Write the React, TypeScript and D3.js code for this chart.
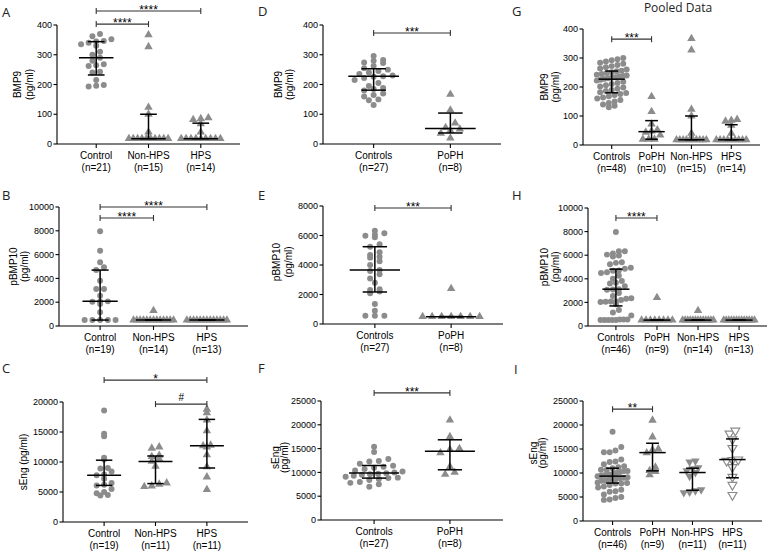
import React from 'react';
import * as d3 from 'd3';

// ---------------- DATA ----------------
const catsLiver = ['Control', 'Non-HPS', 'HPS'];
const catsPoPH = ['Controls', 'PoPH'];
const catsPooled = ['Controls', 'PoPH', 'Non-HPS', 'HPS'];

// Panel A: BMP9 (pg/ml)
const aControl = [370, 362, 352, 346, 345, 340, 335, 330, 310, 300, 290, 280, 268, 265, 262, 243, 240, 215, 198, 196, 193];
const aNonHPS = [367, 327, 123, 100, 40, 18, 18, 18, 18, 18, 18, 18, 18, 18, 18];
const aHPS = [88, 85, 82, 68, 40, 18, 18, 18, 18, 18, 18, 18, 18, 18];
const aMed = [290, 18, 18];
const aQ1 = [232, 18, 18];
const aQ3 = [344, 100, 70];

// Panel B: pBMP10 (pg/ml)
const bControl = [7960, 6330, 5350, 4930, 4700, 3810, 3110, 3100, 2550, 2070, 2050, 2030, 1850, 1150, 500, 500, 500, 500, 500];
const bNonHPS = [1300, 500, 500, 500, 500, 500, 500, 500, 500, 500, 500, 500, 500, 500];
const bHPS = [500, 500, 500, 500, 500, 500, 500, 500, 500, 500, 500, 500, 500];
const bMed = [2070, 500, 500];
const bQ1 = [500, 500, 500];
const bQ3 = [4700, 500, 500];

// Panel C: sEng (pg/ml)
const cControl = [18600, 14700, 14300, 10700, 10400, 9000, 8900, 8400, 7900, 7800, 7200, 6500, 6200, 6100, 5500, 5000, 4800, 4500, 4400];
const cNonHPS = [12500, 12300, 11100, 10900, 10500, 10100, 9300, 6500, 6300, 6000, 5900];
const cHPS = [18800, 18200, 17000, 15200, 12800, 12700, 12500, 11200, 9200, 7500, 5400];
const cMed = [7800, 10100, 12700];
const cQ1 = [6100, 6400, 9000];
const cQ3 = [10300, 11000, 17100];

// Panel D: BMP9
const dControls = [296, 282, 280, 274, 272, 262, 255, 250, 245, 240, 235, 230, 228, 226, 222, 215, 205, 195, 188, 185, 180, 170, 165, 160, 150, 147, 131];
const dPoPH = [167, 114, 70, 55, 50, 45, 36, 20];
const dMed = [228, 52];
const dQ1 = [181, 37];
const dQ3 = [253, 104];

// Panel E: pBMP10
const eControls = [6330, 6150, 6050, 5980, 5880, 5400, 5240, 4860, 4680, 4560, 4500, 4250, 4000, 3660, 3600, 3380, 3080, 2800, 2350, 2300, 2200, 2080, 1350, 900, 560, 560, 560];
const ePoPH = [2400, 500, 500, 500, 500, 500, 500, 500];
const eMed = [3660, 500];
const eQ1 = [2170, 500];
const eQ3 = [5240, 500];

// Panel F: sEng
const fControls = [15400, 14300, 12800, 12400, 12300, 11800, 11400, 11200, 11000, 10700, 10400, 10200, 10000, 9800, 9700, 9600, 9500, 9300, 9100, 8900, 8800, 8600, 8400, 8000, 7800, 7500, 7000];
const fPoPH = [21000, 17500, 15000, 14800, 14100, 11200, 10000, 9600];
const fMed = [9850, 14450];
const fQ1 = [8800, 10550];
const fQ3 = [11450, 16850];

// Panel G: pooled BMP9
const gControls = [300, 296, 292, 288, 284, 280, 276, 272, 268, 264, 260, 256,
  254, 251, 248, 245, 242, 240, 238, 236, 234, 232, 230, 228,
  225, 222, 218, 214, 210, 206, 202, 198, 194, 190, 186, 182,
  179, 176, 172, 168, 164, 160, 155, 150, 145, 140, 135, 130];
const gPoPH = [167, 115, 72, 52, 48, 44, 34, 20, 20, 20];
const gNonHPS = aNonHPS;
const gHPS = aHPS;
const gMed = [227, 46, 18, 18];
const gQ1 = [180, 20, 18, 18];
const gQ3 = [255, 84, 100, 70];

// Panel H: pooled pBMP10
const hControls = [...bControl, ...eControls];
const hPoPH = [2400, 500, 500, 500, 500, 500, 500, 500, 500];
const hNonHPS = bNonHPS;
const hHPS = bHPS;
const hMed = [3120, 500, 500, 500];
const hQ1 = [1700, 500, 500, 500];
const hQ3 = [4820, 500, 500, 500];

// Panel I: pooled sEng
const iControls = [...cControl, ...fControls];
const iPoPH = [21000, 17500, 15000, 14800, 14200, 11200, 10500, 10300, 9600];
const iNonHPS = cNonHPS;
const iHPS = cHPS;
const iMed = [9350, 14250, 10100, 12800];
const iQ1 = [7900, 10450, 6400, 9000];
const iQ3 = [11000, 16200, 11000, 17100];

// Significance brackets: [from group, to group, level (data units), label]
const aSig: [number, number, number, string][] = [[0, 2, 447, '****'], [0, 1, 403, '****']];
const bSig: [number, number, number, string][] = [[0, 2, 10000, '****'], [0, 1, 9080, '****']];
const cSig: [number, number, number, string][] = [[0, 2, 23650, '*'], [1, 2, 19650, '#']];
const dSig: [number, number, number, string][] = [[0, 1, 373, '***']];
const eSig: [number, number, number, string][] = [[0, 1, 7860, '***']];
const fSig: [number, number, number, string][] = [[0, 1, 26700, '***']];
const gSig: [number, number, number, string][] = [[0, 1, 365, '***']];
const hSig: [number, number, number, string][] = [[0, 1, 9150, '****']];
const iSig: [number, number, number, string][] = [[0, 1, 23300, '**']];

// ---------------- LAYOUT ----------------
const FONT = "'Liberation Sans', Arial, sans-serif";
const LFONT = "'Open Sans', 'DejaVu Sans', sans-serif";
const GRAY = '#8c8c8c';

type Panel = {
  letter: string; lx: number; ly: number;
  x0: number; x1: number; pad: number;
  yb: number; yt: number; ymax: number; tick: number;
  cats: string[]; groups: number[][]; shapes: string[];
  med: number[]; q1: number[]; q3: number[];
  ylab: string[]; ylabOff: number[]; ylabDy: number;
  sig: [number, number, number, string][];
};

const panels: Panel[] = [
  { letter: 'A', lx: 2, ly: 17, x0: 57, x1: 240, pad: 0.75, yb: 144, yt: 25, ymax: 400, tick: 100,
    cats: catsLiver, groups: [aControl, aNonHPS, aHPS], shapes: ['c', 'u', 'u'],
    med: aMed, q1: aQ1, q3: aQ3, ylab: ['BMP9', '(pg/ml)'], ylabOff: [-40, -28], ylabDy: 0, sig: aSig },
  { letter: 'B', lx: 2, ly: 200, x0: 59, x1: 248, pad: 0.77, yb: 326, yt: 207, ymax: 10000, tick: 2000,
    cats: catsLiver, groups: [bControl, bNonHPS, bHPS], shapes: ['c', 'u', 'u'],
    med: bMed, q1: bQ1, q3: bQ3, ylab: ['pBMP10', '(pg/ml)'], ylabOff: [-46, -35], ylabDy: 0, sig: bSig },
  { letter: 'C', lx: 2, ly: 373, x0: 63, x1: 248, pad: 0.8, yb: 522, yt: 402, ymax: 20000, tick: 5000,
    cats: catsLiver, groups: [cControl, cNonHPS, cHPS], shapes: ['c', 'u', 'u'],
    med: cMed, q1: cQ1, q3: cQ3, ylab: ['sEng (pg/ml)'], ylabOff: [-40], ylabDy: 0, sig: cSig },
  { letter: 'D', lx: 258, ly: 16, x0: 323, x1: 501, pad: 0.66, yb: 144, yt: 25, ymax: 400, tick: 100,
    cats: catsPoPH, groups: [dControls, dPoPH], shapes: ['c', 'u'],
    med: dMed, q1: dQ1, q3: dQ3, ylab: ['BMP9', '(pg/ml)'], ylabOff: [-45, -34], ylabDy: 0, sig: dSig },
  { letter: 'E', lx: 258, ly: 200, x0: 323, x1: 503, pad: 0.68, yb: 324, yt: 206, ymax: 8000, tick: 2000,
    cats: catsPoPH, groups: [eControls, ePoPH], shapes: ['c', 'u'],
    med: eMed, q1: eQ1, q3: eQ3, ylab: ['pBMP10', '(pg/ml)'], ylabOff: [-47, -35], ylabDy: -3, sig: eSig },
  { letter: 'F', lx: 258, ly: 373, x0: 321, x1: 503, pad: 0.7, yb: 520, yt: 401, ymax: 25000, tick: 5000,
    cats: catsPoPH, groups: [fControls, fPoPH], shapes: ['c', 'u'],
    med: fMed, q1: fQ1, q3: fQ3, ylab: ['sEng', '(pg/ml)'], ylabOff: [-46, -37], ylabDy: -3, sig: fSig },
  { letter: 'G', lx: 512, ly: 16, x0: 583, x1: 760, pad: 0.72, yb: 145, yt: 29, ymax: 400, tick: 100,
    cats: catsPooled, groups: [gControls, gPoPH, gNonHPS, gHPS], shapes: ['c', 'u', 'u', 'u'],
    med: gMed, q1: gQ1, q3: gQ3, ylab: ['BMP9', '(pg/ml)'], ylabOff: [-39, -28], ylabDy: 0, sig: gSig },
  { letter: 'H', lx: 512, ly: 200, x0: 588, x1: 767, pad: 0.68, yb: 326, yt: 208, ymax: 10000, tick: 2000,
    cats: catsPooled, groups: [hControls, hPoPH, hNonHPS, hHPS], shapes: ['c', 'u', 'u', 'u'],
    med: hMed, q1: hQ1, q3: hQ3, ylab: ['pBMP10', '(pg/ml)'], ylabOff: [-44, -33], ylabDy: 0, sig: hSig },
  { letter: 'I', lx: 514, ly: 374, x0: 583, x1: 762, pad: 0.74, yb: 521, yt: 401, ymax: 25000, tick: 5000,
    cats: catsPooled, groups: [iControls, iPoPH, iNonHPS, iHPS], shapes: ['c', 'u', 'd', 'o'],
    med: iMed, q1: iQ1, q3: iQ3, ylab: ['sEng', '(pg/ml)'], ylabOff: [-50, -41], ylabDy: -8, sig: iSig },
];

const circlePath = d3.symbol().type(d3.symbolCircle).size(28)() as string;
const triPath = d3.symbol().type(d3.symbolTriangle).size(31)() as string;
const triOpenPath = d3.symbol().type(d3.symbolTriangle).size(34)() as string;

function swarm(values: number[], y: (v: number) => number, cx: number, step: number, maxW: number, binH: number) {
  const pts = values.map((v, i) => ({ v, i, y: y(v) }));
  const bins = d3.group(pts, (p) => Math.round(p.y / binH));
  const out: { x: number; y: number }[] = [];
  for (const [, arr] of bins) {
    const sorted = arr.slice().sort((a, b) => a.v - b.v);
    const n = sorted.length;
    const s = n > 1 ? Math.min(step, maxW / (n - 1)) : 0;
    sorted.forEach((p, k) => out.push({ x: cx + (k - (n - 1) / 2) * s, y: p.y }));
  }
  return out;
}

function Marker({ shape, x, y }: { shape: string; x: number; y: number }) {
  if (shape === 'c') return <path d={circlePath} transform={`translate(${x},${y})`} fill={GRAY} />;
  if (shape === 'u') return <path d={triPath} transform={`translate(${x},${y})`} fill={GRAY} />;
  if (shape === 'd') return <path d={triPath} transform={`translate(${x},${y}) rotate(180)`} fill={GRAY} />;
  return <path d={triOpenPath} transform={`translate(${x},${y}) rotate(180)`} fill="#fff" stroke={GRAY} strokeWidth={1.2} />;
}

function PanelView({ p }: { p: Panel }) {
  const x = d3.scalePoint<string>().domain(p.cats).range([p.x0, p.x1]).padding(p.pad);
  const yS = d3.scaleLinear().domain([0, p.ymax]).range([p.yb, p.yt]);
  const ticks = d3.range(0, p.ymax + 1, p.tick);
  const band = x.step();
  const step = Math.min(9.5, band * 0.145);
  const medHalf = band * 0.33;
  const capHalf = band * 0.16;
  const ymid = (p.yb + p.yt) / 2 + p.ylabDy;
  return (
    <g>
      <text x={p.lx} y={p.ly} fontFamily={LFONT} fontSize={13} fill="#222">{p.letter}</text>
      {/* y axis */}
      <line x1={p.x0} x2={p.x0} y1={yS(0)} y2={yS(p.ymax)} stroke="#000" strokeWidth={1.1} />
      {ticks.map((t) => (
        <g key={t}>
          <line x1={p.x0 - 3.5} x2={p.x0} y1={yS(t)} y2={yS(t)} stroke="#000" strokeWidth={1.1} />
          <text x={p.x0 - 5} y={yS(t)} dy="0.35em" textAnchor="end" fontFamily={FONT} fontSize={9} fill="#000">{d3.format('d')(t)}</text>
        </g>
      ))}
      {p.ylab.map((l, i) => (
        <text key={l} transform={`translate(${p.x0 + p.ylabOff[i]},${ymid}) rotate(-90)`} textAnchor="middle" dominantBaseline="central"
          fontFamily={FONT} fontSize={10} fill="#000">{l}</text>
      ))}
      {/* x axis */}
      <line x1={p.x0} x2={p.x1} y1={yS(0)} y2={yS(0)} stroke="#000" strokeWidth={1.1} />
      {p.cats.map((c, i) => {
        const cx = x(c)!;
        return (
          <g key={c}>
            <line x1={cx} x2={cx} y1={yS(0)} y2={yS(0) + 4} stroke="#000" strokeWidth={1.1} />
            <text x={cx} y={yS(0) + 15} textAnchor="middle" fontFamily={FONT} fontSize={10} fill="#000">{c}</text>
            <text x={cx} y={yS(0) + 27} textAnchor="middle" fontFamily={FONT} fontSize={10} fill="#000">{`(n=${p.groups[i].length})`}</text>
          </g>
        );
      })}
      {/* points */}
      {p.groups.map((g, i) => {
        const cx = x(p.cats[i])!;
        return swarm(g, yS, cx, step, band * 0.75, 6).map((pt, k) => (
          <Marker key={`${i}-${k}`} shape={p.shapes[i]} x={pt.x} y={pt.y} />
        ));
      })}
      {/* median + IQR */}
      {p.cats.map((c, i) => {
        const cx = x(c)!;
        return (
          <g key={`e${c}`} stroke="#000" strokeWidth={1.5}>
            <line x1={cx} x2={cx} y1={yS(p.q1[i])} y2={yS(p.q3[i])} />
            <line x1={cx - medHalf} x2={cx + medHalf} y1={yS(p.med[i])} y2={yS(p.med[i])} />
            <line x1={cx - capHalf} x2={cx + capHalf} y1={yS(p.q1[i])} y2={yS(p.q1[i])} />
            <line x1={cx - capHalf} x2={cx + capHalf} y1={yS(p.q3[i])} y2={yS(p.q3[i])} />
          </g>
        );
      })}
      {/* significance */}
      {p.sig.map(([a, b, v, t], k) => {
        const xa = x(p.cats[a])!;
        const xb = x(p.cats[b])!;
        const yy = yS(v);
        return (
          <g key={`s${k}`}>
            <line x1={xa} x2={xb} y1={yy} y2={yy} stroke="#333" strokeWidth={1.1} />
            <line x1={xa} x2={xa} y1={yy - 3} y2={yy + 3} stroke="#333" strokeWidth={1.1} />
            <line x1={xb} x2={xb} y1={yy - 3} y2={yy + 3} stroke="#333" strokeWidth={1.1} />
            <text x={(xa + xb) / 2} y={t === '#' ? yy - 3 : yy + 3} textAnchor="middle" fontFamily={FONT}
              fontSize={t === '#' ? 10 : 12} fill="#000">{t}</text>
          </g>
        );
      })}
    </g>
  );
}

export default function App() {
  return (
    <svg width={768} height={552} viewBox="0 0 768 552"
      style={{ position: 'absolute', left: 0, top: 0, background: '#fff', display: 'block' }}>
      <rect width={768} height={552} fill="#fff" />
      <text x={678} y={12} textAnchor="middle" fontFamily={LFONT} fontSize={12} fill="#222">Pooled Data</text>
      {panels.map((p) => <PanelView key={p.letter} p={p} />)}
    </svg>
  );
}
